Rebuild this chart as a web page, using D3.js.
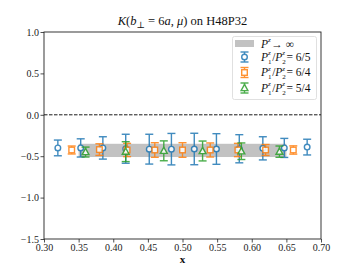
<!DOCTYPE html>
<html>
<head>
<meta charset="utf-8">
<script src="https://cdn.jsdelivr.net/npm/d3@7"></script>
<style>
  body { margin: 0; background: #fff; }
  text { font-family: "Liberation Serif", "DejaVu Serif", serif; }
</style>
</head>
<body>
<svg width="357" height="268"></svg>
<script>
// data
const xBlue = [0.32, 0.353, 0.385, 0.418, 0.452, 0.484, 0.517, 0.549, 0.582, 0.616, 0.647, 0.68];
const yBlue = [-0.40, -0.40, -0.40, -0.41, -0.415, -0.415, -0.413, -0.413, -0.41, -0.405, -0.40, -0.39];
const eBlue = [0.095, 0.11, 0.135, 0.175, 0.18, 0.19, 0.19, 0.185, 0.17, 0.14, 0.115, 0.095];

const xOrange = [0.34, 0.38, 0.42, 0.46, 0.50, 0.54, 0.58, 0.62, 0.66];
const yOrange = [-0.425, -0.42, -0.425, -0.425, -0.425, -0.425, -0.425, -0.425, -0.425];
const eOrange = [0.048, 0.07, 0.08, 0.088, 0.088, 0.085, 0.08, 0.066, 0.05];

const xGreen = [0.36, 0.418, 0.473, 0.529, 0.585, 0.64];
const yGreen = [-0.45, -0.445, -0.435, -0.437, -0.44, -0.445];
const eGreen = [0.06, 0.12, 0.12, 0.12, 0.10, 0.068];

const bandX = [0.35, 0.65];
const bandLo = -0.51;
const bandHi = -0.35;

const xTicks = [0.30, 0.35, 0.40, 0.45, 0.50, 0.55, 0.60, 0.65, 0.70];
const yTicks = [-1.5, -1.0, -0.5, 0.0, 0.5, 1.0];

const svg = d3.select("svg");
const plotLeft = 44, plotRight = 321, plotTop = 32, plotBottom = 239;

const x = d3.scaleLinear().domain([0.3, 0.7]).range([plotLeft, plotRight]);
const y = d3.scaleLinear().domain([-1.5, 1.0]).range([plotBottom, plotTop]);

const minus = s => s.replace("-", "\u2212");

// band
svg.append("rect")
    .attr("x", x(bandX[0]))
    .attr("y", y(bandHi))
    .attr("width", x(bandX[1]) - x(bandX[0]))
    .attr("height", y(bandLo) - y(bandHi))
    .attr("fill", "#c2c2c2");

// zero line
svg.append("line")
    .attr("x1", plotLeft).attr("x2", plotRight)
    .attr("y1", y(0)).attr("y2", y(0))
    .attr("stroke", "black")
    .attr("stroke-width", 0.9)
    .attr("stroke-dasharray", "3.5,1.5");

// error bars
function errbar(g, cx, cy, e, color) {
    g.append("line")
        .attr("x1", cx).attr("x2", cx)
        .attr("y1", y(cy + e)).attr("y2", y(cy - e))
        .attr("stroke", color).attr("stroke-width", 1.4);
    [cy + e, cy - e].forEach(v => {
        g.append("line")
            .attr("x1", cx - 4).attr("x2", cx + 4)
            .attr("y1", y(v)).attr("y2", y(v))
            .attr("stroke", color).attr("stroke-width", 1.4);
    });
}

function marker(g, kind, cx, cy, color) {
    if (kind === "circle") {
        g.append("circle")
            .attr("cx", cx).attr("cy", cy).attr("r", 2.8)
            .attr("fill", "white").attr("stroke", color).attr("stroke-width", 1.4);
    } else if (kind === "square") {
        g.append("rect")
            .attr("x", cx - 2.8).attr("y", cy - 2.8)
            .attr("width", 5.6).attr("height", 5.6)
            .attr("fill", "white").attr("stroke", color).attr("stroke-width", 1.4);
    } else {
        g.append("path")
            .attr("d", `M${cx},${cy - 3.6}L${cx + 3.4},${cy + 2.6}L${cx - 3.4},${cy + 2.6}Z`)
            .attr("fill", "white").attr("stroke", color).attr("stroke-width", 1.4);
    }
}

const series = [
    { xs: xBlue, ys: yBlue, es: eBlue, color: "#1f77b4", kind: "circle" },
    { xs: xOrange, ys: yOrange, es: eOrange, color: "#ff7f0e", kind: "square" },
    { xs: xGreen, ys: yGreen, es: eGreen, color: "#2ca02c", kind: "triangle" }
];

series.forEach(s => {
    const g = svg.append("g").attr("opacity", 0.85);
    s.xs.forEach((v, i) => {
        errbar(g, x(v), s.ys[i], s.es[i], s.color);
        marker(g, s.kind, x(v), y(s.ys[i]), s.color);
    });
});

// axes
const xAxis = svg.append("g")
    .attr("transform", `translate(0,${plotBottom})`)
    .call(d3.axisBottom(x).tickValues(xTicks).tickFormat(d3.format(".2f")).tickSizeOuter(0).tickSize(3.5));
const yAxis = svg.append("g")
    .attr("transform", `translate(${plotLeft},0)`)
    .call(d3.axisLeft(y).tickValues(yTicks).tickFormat(d => minus(d3.format(".1f")(d))).tickSizeOuter(0).tickSize(3.5));

[xAxis, yAxis].forEach(a => {
    a.select(".domain").remove();
    a.selectAll("text").attr("font-size", 10).attr("fill", "#222")
        .style("font-family", "'Liberation Serif', serif");
    a.selectAll("line").attr("stroke", "#222").attr("stroke-width", 0.8);
});
xAxis.selectAll("text").attr("dy", "0.8em").attr("y", 4);
yAxis.selectAll("text").attr("x", -5);

svg.append("rect")
    .attr("x", plotLeft).attr("y", plotTop)
    .attr("width", plotRight - plotLeft).attr("height", plotBottom - plotTop)
    .attr("fill", "none").attr("stroke", "#222").attr("stroke-width", 0.9);

// title
const title = svg.append("text")
    .attr("x", (plotLeft + plotRight) / 2).attr("y", 25)
    .attr("text-anchor", "middle")
    .attr("font-size", 12.5).attr("fill", "#111");
title.append("tspan").attr("font-style", "italic").text("K");
title.append("tspan").text("(");
title.append("tspan").attr("font-style", "italic").text("b");
title.append("tspan").attr("font-size", 9).attr("dy", 2.5).text("\u22a5");
title.append("tspan").attr("dy", -2.5).text(" = 6");
title.append("tspan").attr("font-style", "italic").text("a");
title.append("tspan").text(", ");
title.append("tspan").attr("font-style", "italic").text("\u03bc");
title.append("tspan").text(") on H48P32");

// x label
svg.append("text")
    .attr("x", (plotLeft + plotRight) / 2).attr("y", 263)
    .attr("text-anchor", "middle")
    .attr("font-size", 11).attr("font-weight", "bold").attr("fill", "#111")
    .text("x");

// legend
const leg = svg.append("g");
leg.append("rect")
    .attr("x", 232.5).attr("y", 36.5)
    .attr("width", 84).attr("height", 63)
    .attr("rx", 2)
    .attr("fill", "white").attr("fill-opacity", 0.85)
    .attr("stroke", "#d8d8d8").attr("stroke-width", 0.8);

leg.append("rect")
    .attr("x", 235).attr("y", 40)
    .attr("width", 19).attr("height", 7)
    .attr("fill", "#c2c2c2");

// write a math-ish label piece by piece, measuring as we go
function mathLabel(x0, yb, parts) {
    let cx = x0;
    parts.forEach(p => {
        if (p.sup !== undefined) {
            const a = leg.append("text").attr("x", cx).attr("y", yb - 5.5)
                .attr("font-size", 7).attr("font-style", "italic").attr("fill", "#111").text(p.sup);
            let w = a.node().getComputedTextLength();
            if (p.sub !== undefined) {
                const b = leg.append("text").attr("x", cx).attr("y", yb + 3)
                    .attr("font-size", 7).attr("fill", "#111").text(p.sub);
                w = Math.max(w, b.node().getComputedTextLength());
            }
            cx += w + 0.6;
        } else {
            const t = leg.append("text").attr("x", cx).attr("y", yb)
                .attr("font-size", 11.5).attr("fill", "#111")
                .attr("font-style", p.it ? "italic" : "normal").text(p.t);
            cx += t.node().getComputedTextLength();
        }
    });
}

mathLabel(261, 47.5, [{ t: "P", it: true }, { sup: "z" }, { t: " \u2192 \u221e" }]);

const legendRows = [
    { label: "6/5", yc: 57 },
    { label: "6/4", yc: 72.5 },
    { label: "5/4", yc: 88 }
];
legendRows.forEach((r, i) => {
    const s = series[i];
    const g = leg.append("g").attr("opacity", 0.85);
    const cx = 244.5, cy = r.yc;
    g.append("line").attr("x1", cx).attr("x2", cx).attr("y1", cy - 5).attr("y2", cy + 5)
        .attr("stroke", s.color).attr("stroke-width", 1.4);
    [cy - 5, cy + 5].forEach(v => g.append("line")
        .attr("x1", cx - 4).attr("x2", cx + 4).attr("y1", v).attr("y2", v)
        .attr("stroke", s.color).attr("stroke-width", 1.4));
    marker(g, s.kind, cx, cy, s.color);
    mathLabel(261, cy + 3.5, [
        { t: "P", it: true }, { sup: "z", sub: "1" },
        { t: "/" },
        { t: "P", it: true }, { sup: "z", sub: "2" },
        { t: " = " + r.label }
    ]);
});
</script>
</body>
</html>
